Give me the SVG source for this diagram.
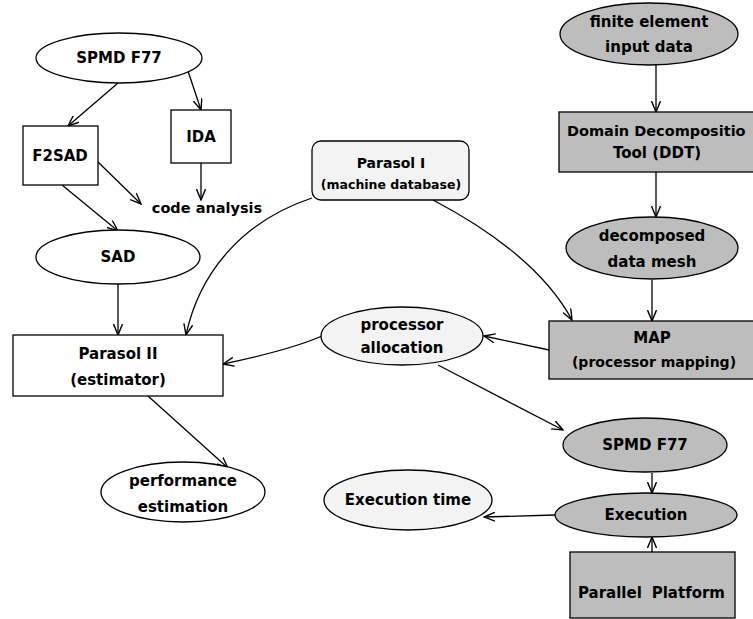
<svg xmlns="http://www.w3.org/2000/svg" width="753" height="619" viewBox="0 0 753 619">
<style>
.n{fill:#fff;stroke:#000;stroke-width:1.3}
.g{fill:#bdbdbd;stroke:#000;stroke-width:1.3}
.l{fill:#f3f3f3;stroke:#000;stroke-width:1.3}
text{font-family:"DejaVu Sans","Liberation Sans",sans-serif;font-weight:bold;font-size:15px;text-anchor:middle;fill:#000}
.c line,.c path{fill:none;stroke:#000;stroke-width:1.3;marker-end:url(#a)}
</style>
<defs>
<marker id="a" viewBox="0 0 12 10" refX="11" refY="5" markerWidth="12" markerHeight="10" markerUnits="userSpaceOnUse" orient="auto">
<path d="M0,0.5 L11,5 L0,9.5" fill="none" stroke="#000" stroke-width="1.4"/>
</marker>
</defs>
<rect width="753" height="619" fill="#fff"/>
<g class="c">
<line x1="118" y1="83" x2="68" y2="126"/>
<line x1="187" y1="68" x2="201" y2="110"/>
<line x1="201" y1="163" x2="201" y2="200"/>
<line x1="98" y1="162" x2="141" y2="204"/>
<line x1="62" y1="185" x2="118" y2="231"/>
<line x1="118" y1="284" x2="118" y2="335"/>
<path d="M312,198 C245,220 200,270 186,335"/>
<path d="M433,200 C490,230 545,270 572,320"/>
<path d="M322,336 Q290,350 223,364"/>
<line x1="549" y1="350" x2="484" y2="336"/>
<line x1="438" y1="365" x2="563" y2="430"/>
<line x1="652" y1="473" x2="652" y2="493"/>
<line x1="652" y1="552" x2="652" y2="537"/>
<line x1="555" y1="515" x2="484" y2="517"/>
<line x1="148" y1="396" x2="228" y2="468"/>
<line x1="656" y1="65" x2="656" y2="112"/>
<line x1="656" y1="172" x2="656" y2="217"/>
<line x1="652" y1="280" x2="652" y2="321"/>
</g>
<g id="spmd1"><ellipse class="n" cx="119" cy="58" rx="83" ry="25"/><text x="119" y="63">SPMD F77</text></g>
<g id="f2sad"><rect class="n" x="23" y="126" width="75" height="59"/><text x="60" y="161">F2SAD</text></g>
<g id="ida"><rect class="n" x="171" y="110" width="60" height="53"/><text x="201" y="142">IDA</text></g>
<g id="code"><text x="207" y="213" style="font-size:14.5px">code analysis</text></g>
<g id="sad"><ellipse class="n" cx="118" cy="257" rx="82" ry="27"/><text x="118" y="262">SAD</text></g>
<g id="parasol1"><rect class="l" x="312" y="141" width="157" height="59" rx="9"/><text x="391" y="168" style="font-size:14px">Parasol I</text><text x="391" y="189" style="font-size:12.5px">(machine database)</text></g>
<g id="parasol2"><rect class="n" x="13" y="335" width="210" height="61"/><text x="118" y="359">Parasol II</text><text x="118" y="385">(estimator)</text></g>
<g id="perf"><ellipse class="n" cx="183" cy="492" rx="82" ry="30"/><text x="183" y="486">performance</text><text x="183" y="512">estimation</text></g>
<g id="fe"><ellipse class="g" cx="649" cy="34" rx="89" ry="31"/><text x="649" y="27">finite element</text><text x="649" y="52">input data</text></g>
<g id="ddt"><rect class="g" x="559" y="112" width="200" height="60"/><text x="567" y="136" style="text-anchor:start;font-size:14.5px">Domain Decompositio</text><text x="657" y="158">Tool (DDT)</text></g>
<g id="mesh"><ellipse class="g" cx="652" cy="248" rx="86" ry="31"/><text x="652" y="241">decomposed</text><text x="652" y="267">data mesh</text></g>
<g id="map"><rect class="g" x="549" y="321" width="210" height="58"/><text x="652" y="343">MAP</text><text x="654" y="367" style="font-size:14px">(processor mapping)</text></g>
<g id="alloc"><ellipse class="l" cx="402" cy="336" rx="81" ry="29"/><text x="402" y="330">processor</text><text x="402" y="353">allocation</text></g>
<g id="spmd2"><ellipse class="g" cx="645" cy="445" rx="82" ry="27"/><text x="645" y="450">SPMD F77</text></g>
<g id="exec"><ellipse class="g" cx="646" cy="515" rx="91" ry="22"/><text x="646" y="520">Execution</text></g>
<g id="etime"><ellipse class="l" cx="408" cy="500" rx="84" ry="30"/><text x="408" y="505">Execution time</text></g>
<g id="platform"><rect class="g" x="570" y="552" width="165" height="66"/><text x="578" y="598" style="text-anchor:start">Parallel</text><text x="725" y="598" style="text-anchor:end">Platform</text></g>
</svg>
